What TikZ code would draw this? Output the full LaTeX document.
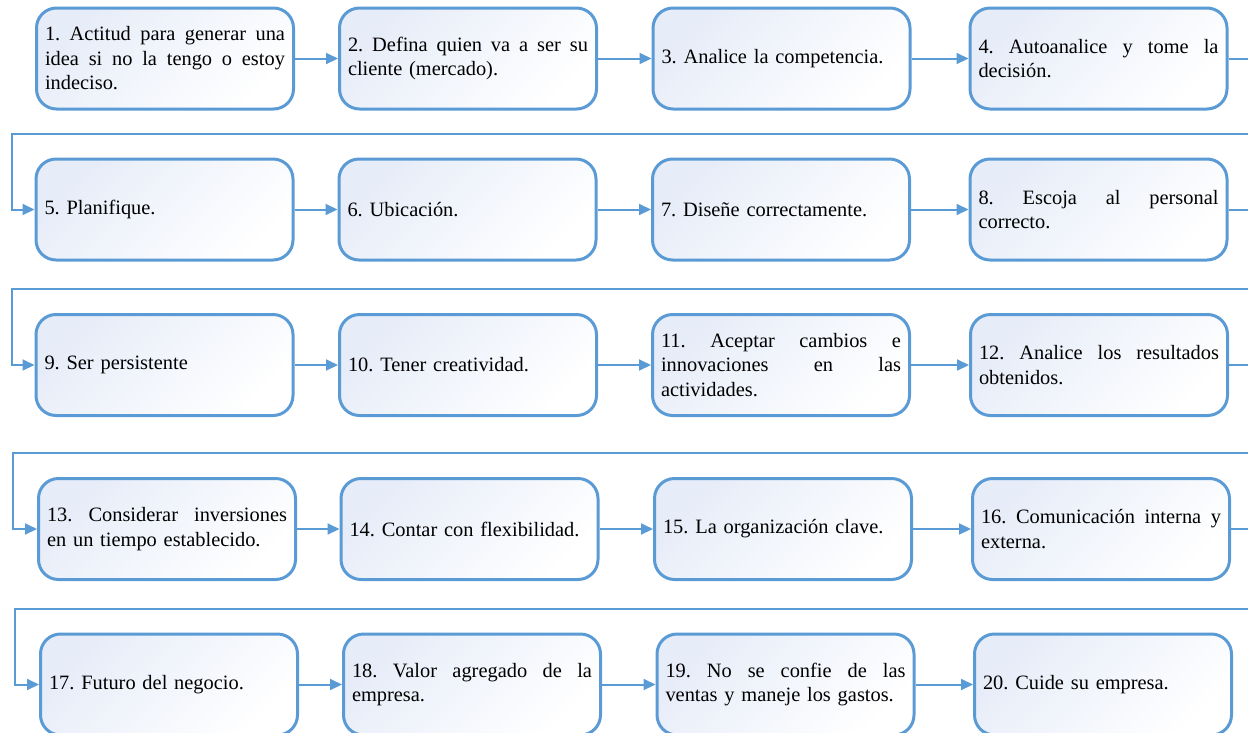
\documentclass[tikz,border=0pt]{standalone}
\usepackage{fontspec}
\setmainfont{Liberation Serif}
\usetikzlibrary{arrows.meta}
\frenchspacing
\definecolor{bord}{RGB}{91,155,213}
\definecolor{gradc}{RGB}{230,236,248}
\newlength\boxtw \setlength\boxtw{240pt}
\newcommand\justline[1]{\leavevmode\hbox to \boxtw{\spaceskip=0.25em plus 1fil\relax #1}}
\begin{document}
\begin{tikzpicture}[x=1pt,y=-1pt,
  stepbox/.style={draw=bord, line width=3pt, rounded corners=20pt,
    minimum width=257pt, minimum height=101pt, text width=\boxtw,
    inner xsep=8.5pt, inner ysep=0pt, align=left,
    top color=gradc, bottom color=white, shading angle=45,
    font=\fontsize{20.4}{24.5}\selectfont},
  conn/.style={draw=bord, line width=2pt, -{Triangle[length=12pt,width=11pt]}}]
\useasboundingbox (0,0) rectangle (1248,732);
% row 1
\node[stepbox] (b1) at (165,58.5) {\justline{1. Actitud para generar una}\\\justline{idea si no la tengo o estoy}\\indeciso.};
\node[stepbox] (b2) at (468,58.5) {\justline{2. Defina quien va a ser su}\\cliente (mercado).};
\node[stepbox] (b3) at (781.5,58.5) {3. Analice la competencia.};
\node[stepbox] (b4) at (1098.5,58.5) {\justline{4. Autoanalice y tome la}\\decisión.};
% row 2
\node[stepbox] (b5) at (164.5,209.5) {5. Planifique.};
\node[stepbox] (b6) at (467.5,209.5) {6. Ubicación.};
\node[stepbox] (b7) at (781,209.5) {7. Diseñe correctamente.};
\node[stepbox] (b8) at (1098.5,209.5) {\justline{8. Escoja al personal}\\correcto.};
% row 3
\node[stepbox] (b9) at (164.5,365) {9. Ser persistente};
\node[stepbox] (b10) at (468,365) {10. Tener creatividad.};
\node[stepbox] (b11) at (781,365) {\justline{11. Aceptar cambios e}\\\justline{innovaciones en las}\\actividades.};
\node[stepbox] (b12) at (1099,365) {\justline{12. Analice los resultados}\\obtenidos.};
% row 4
\node[stepbox] (b13) at (167,529) {\justline{13. Considerar inversiones}\\en un tiempo establecido.};
\node[stepbox] (b14) at (469.5,529) {14. Contar con flexibilidad.};
\node[stepbox] (b15) at (783,529) {15. La organización clave.};
\node[stepbox] (b16) at (1101,529) {\justline{16. Comunicación interna y}\\externa.};
% row 5
\node[stepbox] (b17) at (169,684.5) {17. Futuro del negocio.};
\node[stepbox] (b18) at (472,684.5) {\justline{18. Valor agregado de la}\\empresa.};
\node[stepbox] (b19) at (785.5,684.5) {\justline{19. No se confie de las}\\ventas y maneje los gastos.};
\node[stepbox] (b20) at (1103,684.5) {20. Cuide su empresa.};
% return coordinates
\coordinate (r2) at (12,134);
\coordinate (r3) at (12,289);
\coordinate (r4) at (13,453);
\coordinate (r5) at (15,609);
% connectors
\foreach \a/\b in {b1/b2,b2/b3,b3/b4,b5/b6,b6/b7,b7/b8,b9/b10,b10/b11,b11/b12,b13/b14,b14/b15,b15/b16,b17/b18,b18/b19,b19/b20}
  \draw[conn] (\a.east) -- (\b.west);
\draw[conn] (b4.east) -- ++(40,0) |- (r2) |- (b5.west);
\draw[conn] (b8.east) -- ++(40,0) |- (r3) |- (b9.west);
\draw[conn] (b12.east) -- ++(40,0) |- (r4) |- (b13.west);
\draw[conn] (b16.east) -- ++(40,0) |- (r5) |- (b17.west);
\end{tikzpicture}
\end{document}
